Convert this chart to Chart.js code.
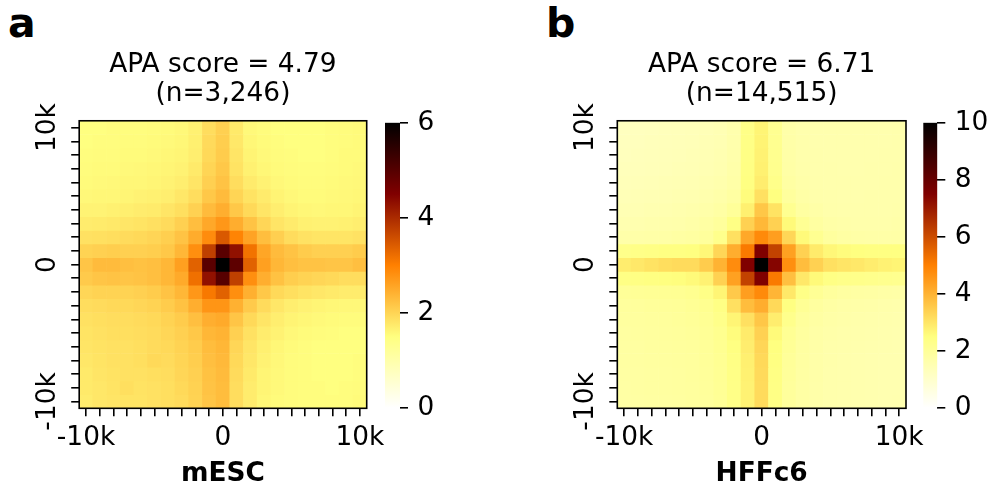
<!DOCTYPE html>
<html>
<head>
<meta charset="utf-8">
<title>APA</title>
<script src="https://cdn.jsdelivr.net/npm/chart.js@4.4.1/dist/chart.umd.min.js"></script>
<style>
    body { margin: 0; width: 993px; height: 493px; position: relative; overflow: hidden; background: #fff; font-family: 'DejaVu Sans', sans-serif; }
    canvas, .panel-letter { position: absolute; top: 0; }
    .panel-letter { font-weight: bold; font-size: 41px; line-height: 1; color: #000; }
</style>
</head>
<body>
<div class="panel-letter" style="left:8px;top:3px">a</div>
<canvas id="apaMesc" width="390" height="493" style="left:0"></canvas>
<canvas id="barMesc" width="70" height="493" style="left:380px"></canvas>
<div class="panel-letter" style="left:546px;top:3px">b</div>
<canvas id="apaHffc6" width="390" height="493" style="left:538px"></canvas>
<canvas id="barHffc6" width="80" height="493" style="left:918px"></canvas>
<script>
// bin offsets from the loop anchor, in kb (columns left->right, rows bottom->top)
var binKb = [-10, -9, -8, -7, -6, -5, -4, -3, -2, -1, 0, 1, 2, 3, 4, 5, 6, 7, 8, 9, 10];
var labeledBins = [-10, 0, 10];
var labeledText = ['-10k', '0', '10k'];

// mESC aggregate, rows listed top (+10k) to bottom (-10k)
var mescValues = [
    [1.50,1.50,1.52,1.52,1.52,1.53,1.55,1.58,1.66,1.90,2.05,1.75,1.57,1.53,1.50,1.50,1.50,1.50,1.52,1.53,1.55],
    [1.50,1.52,1.52,1.53,1.53,1.55,1.57,1.60,1.68,1.93,2.08,1.77,1.60,1.55,1.52,1.50,1.50,1.50,1.52,1.53,1.55],
    [1.52,1.53,1.53,1.55,1.55,1.57,1.60,1.62,1.70,1.95,2.10,1.80,1.63,1.57,1.53,1.52,1.50,1.50,1.52,1.55,1.55],
    [1.53,1.55,1.55,1.57,1.58,1.60,1.62,1.65,1.75,2.00,2.15,1.83,1.67,1.60,1.55,1.53,1.52,1.52,1.53,1.55,1.57],
    [1.55,1.57,1.58,1.60,1.60,1.62,1.65,1.70,1.80,2.05,2.20,1.90,1.73,1.65,1.58,1.55,1.53,1.53,1.55,1.57,1.58],
    [1.58,1.60,1.60,1.62,1.65,1.67,1.70,1.78,1.90,2.15,2.30,2.00,1.83,1.73,1.63,1.58,1.55,1.55,1.57,1.58,1.60],
    [1.64,1.64,1.67,1.69,1.72,1.74,1.80,1.88,2.04,2.30,2.45,2.15,1.95,1.80,1.70,1.63,1.60,1.58,1.60,1.60,1.63],
    [1.72,1.74,1.76,1.79,1.82,1.86,1.92,2.05,2.26,2.52,2.72,2.46,2.20,1.98,1.80,1.73,1.67,1.65,1.65,1.67,1.70],
    [1.85,1.87,1.89,1.92,1.95,1.99,2.07,2.20,2.48,2.85,3.45,2.95,2.58,2.27,2.06,1.91,1.84,1.81,1.81,1.81,1.84],
    [2.02,2.05,2.08,2.05,2.05,2.08,2.15,2.35,2.82,3.75,4.95,4.30,3.15,2.55,2.30,2.20,2.10,2.05,2.05,2.05,2.10],
    [2.18,2.30,2.30,2.25,2.22,2.25,2.35,2.62,3.35,4.95,6.00,4.90,3.35,2.62,2.35,2.25,2.20,2.20,2.18,2.18,2.25],
    [2.12,2.18,2.20,2.18,2.20,2.25,2.35,2.50,3.18,4.30,4.98,3.75,2.82,2.45,2.22,2.08,2.02,1.98,1.95,1.90,1.90],
    [1.98,2.02,2.02,2.02,2.05,2.10,2.20,2.35,2.72,3.08,3.35,2.82,2.43,2.15,1.95,1.88,1.82,1.78,1.75,1.72,1.72],
    [1.90,1.92,1.95,1.95,1.98,2.02,2.10,2.22,2.45,2.75,2.75,2.42,2.12,1.92,1.78,1.70,1.65,1.62,1.60,1.58,1.58],
    [1.85,1.88,1.90,1.90,1.92,1.95,2.02,2.10,2.25,2.45,2.50,2.18,1.95,1.80,1.70,1.63,1.60,1.57,1.55,1.53,1.53],
    [1.82,1.85,1.88,1.88,1.90,1.92,1.98,2.05,2.15,2.35,2.40,2.05,1.85,1.72,1.65,1.58,1.55,1.53,1.52,1.50,1.50],
    [1.80,1.83,1.85,1.85,1.88,1.92,1.95,2.02,2.10,2.28,2.35,1.98,1.80,1.68,1.60,1.55,1.52,1.50,1.50,1.50,1.50],
    [1.78,1.82,1.85,1.85,1.88,1.95,1.92,2.00,2.08,2.25,2.32,1.95,1.78,1.65,1.58,1.53,1.52,1.50,1.50,1.50,1.52],
    [1.75,1.80,1.83,1.85,1.85,1.88,1.90,1.98,2.05,2.22,2.30,1.92,1.75,1.62,1.57,1.53,1.52,1.50,1.50,1.50,1.52],
    [1.75,1.78,1.82,1.88,1.83,1.85,1.88,1.95,2.03,2.20,2.28,1.90,1.72,1.62,1.57,1.53,1.52,1.52,1.50,1.52,1.53],
    [1.72,1.78,1.80,1.82,1.82,1.85,1.88,1.92,2.02,2.18,2.28,1.90,1.72,1.60,1.55,1.53,1.52,1.52,1.52,1.52,1.55]
];
var mescScale = [0, 2, 4, 6];

// HFFc6 aggregate, same layout
var hffc6Values = [
    [1.25,1.28,1.30,1.33,1.35,1.38,1.42,1.48,1.60,2.35,2.70,2.15,1.68,1.60,1.58,1.58,1.58,1.58,1.58,1.58,1.60],
    [1.28,1.30,1.33,1.35,1.38,1.40,1.45,1.50,1.62,2.38,2.72,2.18,1.70,1.62,1.58,1.58,1.58,1.58,1.58,1.58,1.60],
    [1.30,1.33,1.35,1.38,1.40,1.43,1.48,1.53,1.65,2.40,2.75,2.20,1.72,1.63,1.60,1.58,1.58,1.58,1.58,1.60,1.60],
    [1.33,1.35,1.38,1.40,1.43,1.45,1.50,1.55,1.68,2.42,2.78,2.22,1.75,1.65,1.60,1.60,1.58,1.58,1.60,1.60,1.62],
    [1.38,1.40,1.42,1.45,1.48,1.50,1.55,1.60,1.72,2.45,2.85,2.30,1.80,1.68,1.62,1.60,1.60,1.60,1.60,1.62,1.62],
    [1.42,1.45,1.48,1.50,1.53,1.55,1.60,1.68,1.82,2.55,3.10,2.50,1.92,1.75,1.65,1.62,1.60,1.60,1.62,1.62,1.63],
    [1.48,1.50,1.52,1.55,1.58,1.62,1.68,1.78,2.00,2.80,3.60,3.05,2.15,1.85,1.72,1.65,1.62,1.62,1.62,1.63,1.65],
    [1.55,1.57,1.60,1.62,1.65,1.70,1.80,1.95,2.40,3.40,3.90,3.40,2.60,2.10,1.85,1.72,1.68,1.65,1.65,1.65,1.68],
    [1.68,1.70,1.72,1.75,1.80,1.85,1.95,2.25,3.10,4.20,4.80,4.40,3.30,2.60,2.15,1.90,1.80,1.75,1.72,1.72,1.75],
    [2.30,2.35,2.40,2.45,2.45,2.50,2.65,3.30,4.10,5.10,7.50,6.20,4.35,3.40,2.90,2.65,2.55,2.50,2.45,2.45,2.45],
    [2.85,2.95,3.05,3.15,3.20,3.20,3.50,4.00,4.75,7.50,10.0,7.40,4.70,3.80,3.40,3.10,3.00,2.95,2.85,2.75,2.70],
    [2.40,2.42,2.45,2.50,2.52,2.60,2.75,3.40,4.35,6.20,7.50,5.10,3.75,2.95,2.60,2.40,2.32,2.30,2.25,2.22,2.20],
    [2.02,2.05,2.08,2.10,2.12,2.18,2.35,2.70,3.55,4.40,4.80,3.95,2.95,2.35,2.08,1.92,1.85,1.80,1.78,1.75,1.72],
    [1.92,1.95,1.98,2.00,2.02,2.08,2.18,2.40,3.10,3.80,4.10,3.25,2.45,2.08,1.88,1.78,1.72,1.70,1.68,1.65,1.63],
    [1.88,1.90,1.92,1.95,1.98,2.02,2.10,2.30,2.70,3.10,3.60,2.85,2.25,1.95,1.80,1.72,1.68,1.65,1.62,1.60,1.58],
    [1.85,1.88,1.90,1.92,1.95,1.98,2.05,2.20,2.55,2.90,3.40,2.60,2.10,1.88,1.75,1.68,1.65,1.62,1.60,1.58,1.57],
    [1.83,1.85,1.88,1.90,1.92,1.95,2.02,2.15,2.45,2.85,3.30,2.50,2.05,1.85,1.72,1.65,1.62,1.60,1.58,1.57,1.55],
    [1.82,1.85,1.87,1.88,1.90,1.93,2.00,2.12,2.40,2.80,3.25,2.45,2.00,1.82,1.70,1.65,1.60,1.58,1.57,1.55,1.55],
    [1.80,1.83,1.85,1.87,1.88,1.92,1.98,2.10,2.38,2.78,3.22,2.42,1.98,1.80,1.70,1.63,1.60,1.58,1.57,1.55,1.55],
    [1.78,1.82,1.84,1.86,1.88,1.90,1.97,2.08,2.35,2.75,3.20,2.40,1.95,1.78,1.68,1.62,1.60,1.58,1.57,1.55,1.55],
    [1.78,1.80,1.83,1.85,1.87,1.90,1.95,2.05,2.35,2.75,3.20,2.40,1.95,1.78,1.68,1.62,1.60,1.58,1.57,1.55,1.57]
];
var hffc6Scale = [0, 2, 4, 6, 8, 10];

var FONT_SIZE = 26.4;
Chart.defaults.font.family = "'DejaVu Sans', sans-serif";
Chart.defaults.color = '#000';

// reversed afmhot: white -> yellow -> orange -> dark red -> black
function heatColor(v, vmax) {
    var x = 1 - Math.min(Math.max(v / vmax, 0), 1);
    function ch(k) { return Math.round(255 * Math.min(1, Math.max(0, 2 * x - k))); }
    return 'rgb(' + ch(0) + ',' + ch(0.5) + ',' + ch(1) + ')';
}

function tickText(kb) {
    var i = labeledBins.indexOf(kb);
    return i < 0 ? '' : labeledText[i];
}

// axes here have fixed sizes; drop the extra room Chart.js keeps for edge labels
function fixedSize(key, size) {
    return function (s) {
        s[key] = size;
        s.paddingLeft = s.paddingRight = s.paddingTop = s.paddingBottom = 0;
    };
}

// black box around the plotting area
var framePlugin = {
    id: 'frame',
    afterDatasetsDraw: function (chart) {
        var a = chart.chartArea, ctx = chart.ctx;
        ctx.save();
        ctx.strokeStyle = '#000';
        ctx.lineWidth = 1.6;
        ctx.strokeRect(a.left, a.top, a.right - a.left, a.bottom - a.top);
        ctx.restore();
    }
};

function heatmap(id, values, vmax, title, xTitle, box) {
    // one floating-bar dataset per row, each bar is one bin tall
    var datasets = values.map(function (row, j) {
        var yc = binKb[binKb.length - 1 - j];
        return {
            data: row.map(function () { return [yc - 0.5, yc + 0.5]; }),
            backgroundColor: row.map(function (v) { return heatColor(v, vmax); }),
            borderWidth: 0,
            barPercentage: 1,
            categoryPercentage: 1,
            grouped: false
        };
    });

    var tickGrid = { offset: false, drawOnChartArea: false, tickLength: 8, lineWidth: 1.6, color: '#000' };

    new Chart(document.getElementById(id), {
        type: 'bar',
        data: { labels: binKb, datasets: datasets },
        plugins: [framePlugin],
        options: {
            responsive: false,
            animation: false,
            devicePixelRatio: 1,
            events: [],
            layout: { padding: { left: 0, right: box.right, top: 0, bottom: 0 } },
            plugins: {
                legend: { display: false },
                tooltip: { enabled: false },
                title: {
                    display: true,
                    fullSize: false,
                    text: title,
                    color: '#000',
                    font: { size: FONT_SIZE, weight: 'normal', lineHeight: 1.1 },
                    padding: { top: 50.4, bottom: 12.3 }
                }
            },
            scales: {
                x: {
                    type: 'category',
                    grid: tickGrid,
                    border: { display: false },
                    ticks: {
                        autoSkip: false,
                        maxRotation: 0,
                        padding: 5.8,
                        font: { size: FONT_SIZE },
                        callback: function (v, i) { return tickText(binKb[i]); }
                    },
                    title: {
                        display: true,
                        text: xTitle,
                        font: { size: FONT_SIZE, weight: 'bold' },
                        padding: { top: 0, bottom: 3.3 }
                    },
                    afterFit: fixedSize('height', 84.7)
                },
                y: {
                    type: 'linear',
                    min: -10.5,
                    max: 10.5,
                    grid: tickGrid,
                    border: { display: false },
                    afterBuildTicks: function (s) {
                        s.ticks = binKb.map(function (v) { return { value: v }; });
                    },
                    ticks: {
                        autoSkip: false,
                        minRotation: 90,
                        maxRotation: 90,
                        crossAlign: 'center',
                        padding: -5.9,
                        font: { size: FONT_SIZE },
                        callback: function (v) { return tickText(v); }
                    },
                    afterFit: fixedSize('width', box.left)
                }
            }
        }
    });
}

function colorbar(id, vmax, scaleTicks, box) {
    new Chart(document.getElementById(id), {
        type: 'bar',
        data: {
            labels: [''],
            datasets: [{
                data: [[0, vmax]],
                borderWidth: 0,
                barPercentage: 1,
                categoryPercentage: 1,
                backgroundColor: function (c) {
                    var y = c.chart.scales.y;
                    var y0 = y ? y.getPixelForValue(0) : NaN;
                    var y1 = y ? y.getPixelForValue(vmax) : NaN;
                    if (!isFinite(y0) || !isFinite(y1)) return '#fff';
                    var g = c.chart.ctx.createLinearGradient(0, y0, 0, y1);
                    [0, 0.25, 0.5, 0.75, 1].forEach(function (s) { g.addColorStop(s, heatColor(s * vmax, vmax)); });
                    return g;
                }
            }]
        },
        options: {
            responsive: false,
            animation: false,
            devicePixelRatio: 1,
            events: [],
            layout: { padding: { left: box.left, right: 0, top: 122.7, bottom: 85 } },
            plugins: { legend: { display: false }, tooltip: { enabled: false } },
            scales: {
                x: { display: false },
                y: {
                    position: 'right',
                    min: 0,
                    max: vmax,
                    grid: { drawOnChartArea: false, tickLength: 8, lineWidth: 1.6, color: '#000' },
                    border: { display: false },
                    afterBuildTicks: function (s) {
                        s.ticks = scaleTicks.map(function (v) { return { value: v }; });
                    },
                    ticks: { autoSkip: false, padding: 9.5, font: { size: FONT_SIZE } },
                    afterFit: fixedSize('width', box.axis)
                }
            }
        }
    });
}

heatmap('apaMesc', mescValues, 6, ['APA score = 4.79', '(n=3,246)'], 'mESC', { left: 79.2, right: 23.3 });
colorbar('barMesc', 6, mescScale, { left: 5, axis: 50 });
heatmap('apaHffc6', hffc6Values, 10, ['APA score = 6.71', '(n=14,515)'], 'HFFc6', { left: 79.3, right: 22 });
colorbar('barHffc6', 10, hffc6Scale, { left: 5.3, axis: 60.7 });
</script>
</body>
</html>
